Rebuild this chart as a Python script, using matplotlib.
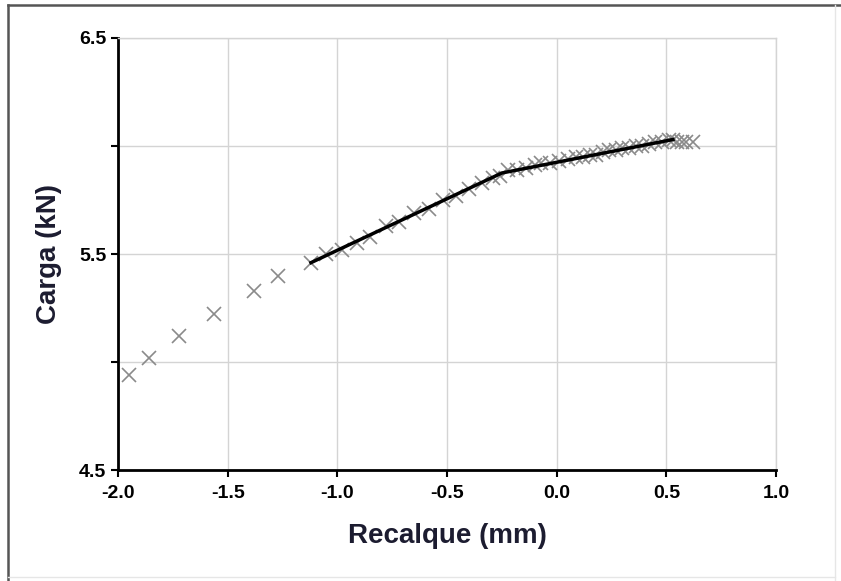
import matplotlib.pyplot as plt
from matplotlib.lines import Line2D

# measured points (recalque mm, carga kN)
recalque = [-1.95, -1.86, -1.72, -1.56, -1.38, -1.27, -1.12, -1.05, -0.98, -0.91,
            -0.85, -0.78, -0.72, -0.65, -0.58, -0.52, -0.46, -0.40, -0.34, -0.29,
            -0.26, -0.22, -0.18, -0.14, -0.10, -0.07, -0.03, 0.01, 0.05, 0.09,
            0.12, 0.15, 0.18, 0.21, 0.24, 0.27, 0.30, 0.33, 0.36, 0.39,
            0.42, 0.45, 0.48, 0.51, 0.53, 0.55, 0.57, 0.59, 0.62]
carga = [4.94, 5.02, 5.12, 5.22, 5.33, 5.40, 5.46, 5.50, 5.52, 5.55,
         5.58, 5.63, 5.65, 5.69, 5.71, 5.75, 5.77, 5.80, 5.83, 5.85,
         5.86, 5.89, 5.89, 5.90, 5.91, 5.92, 5.92, 5.93, 5.94, 5.95,
         5.95, 5.96, 5.96, 5.97, 5.98, 5.98, 5.99, 5.99, 6.00, 6.00,
         6.01, 6.02, 6.02, 6.03, 6.03, 6.02, 6.02, 6.02, 6.02]

# fitted trend (two segments)
trend_x = [-1.12, -0.25, 0.53]
trend_y = [5.46, 5.875, 6.03]

xticks = [-2.0, -1.5, -1.0, -0.5, 0.0, 0.5, 1.0]
yticks = [4.5, 5.0, 5.5, 6.0, 6.5]
ylabels = ["4.5", "", "5.5", "", "6.5"]

plt.rcParams['font.family'] = ['Liberation Sans', 'DejaVu Sans']

fig = plt.figure(figsize=(8.41, 5.81), dpi=100)
ax = fig.add_axes([0.1403, 0.191, 0.7824, 0.7436])

ax.plot(recalque, carga, linestyle='none', marker='x', markersize=10,
        markeredgewidth=1.2, color='#8a8a8a', zorder=3)
ax.plot(trend_x, trend_y, color='black', linewidth=2.5, zorder=4)

ax.set_xlim(-2.0, 1.0)
ax.set_ylim(4.5, 6.5)
ax.set_xticks(xticks)
ax.set_xticklabels([f"{v:.1f}" for v in xticks])
ax.set_yticks(yticks)
ax.set_yticklabels(ylabels)
ax.grid(True, color='#d4d4d4', linewidth=1)
ax.set_axisbelow(True)

for s in ['top', 'right']:
    ax.spines[s].set_color('#d4d4d4')
    ax.spines[s].set_linewidth(1)
for s in ['left', 'bottom']:
    ax.spines[s].set_color('black')
    ax.spines[s].set_linewidth(2)

ax.tick_params(axis='both', direction='out', length=5, width=1.5, labelsize=14,
               colors='black')
for lbl in ax.get_xticklabels() + ax.get_yticklabels():
    lbl.set_fontweight('bold')
ax.tick_params(axis='x', pad=6)

ax.set_xlabel('Recalque (mm)', fontsize=20, fontweight='bold', color='#1c1c30', labelpad=15)
ax.set_ylabel('Carga (kN)', fontsize=20, fontweight='bold', color='#1c1c30', labelpad=12)

# outer frame of the picture
fig.add_artist(Line2D([0.0095, 0.0095], [0.0, 0.991], transform=fig.transFigure,
                      color='#555555', linewidth=1.8))
fig.add_artist(Line2D([0.0095, 1.0], [0.991, 0.991], transform=fig.transFigure,
                      color='#555555', linewidth=1.8))
fig.add_artist(Line2D([0.993, 0.993], [0.0, 0.991], transform=fig.transFigure,
                      color='#e6e6e6', linewidth=1))
fig.add_artist(Line2D([0.0095, 0.993], [0.007, 0.007], transform=fig.transFigure,
                      color='#e6e6e6', linewidth=1))

fig.savefig('out.png', dpi=100)
